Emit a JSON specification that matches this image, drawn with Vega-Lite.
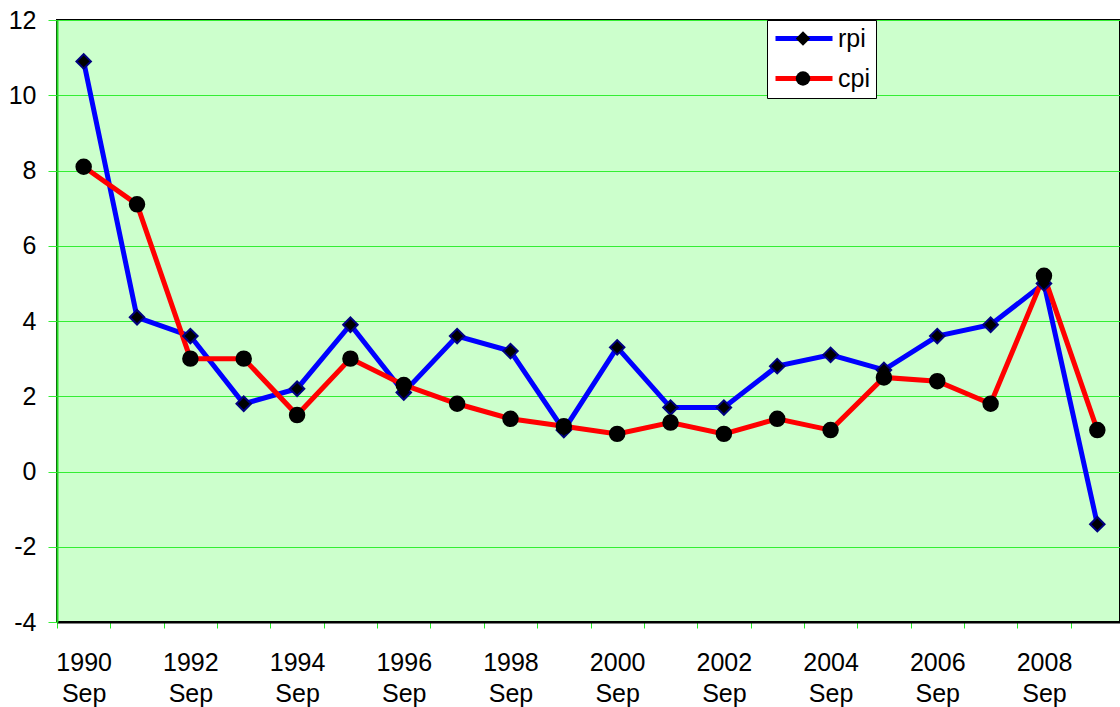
{
  "$schema": "https://vega.github.io/schema/vega-lite/v6.json",
  "width": 1063,
  "height": 602,
  "autosize": {"type": "none"},
  "padding": {"left": 57, "top": 20, "right": 0, "bottom": 85},
  "background": "white",
  "config": {
    "font": "Liberation Sans",
    "view": {"fill": "#ccffcc", "stroke": "black", "strokeWidth": 2},
    "axis": {"labelFont": "Liberation Sans", "labelFontSize": 25, "labelColor": "black"},
    "legend": {"labelFont": "Liberation Sans"}
  },
  "data": {
    "values": [
      {"year": 1990, "period": "1990 Sep", "series": "rpi", "name": "rpi", "value": 10.9},
      {"year": 1991, "period": "1991 Sep", "series": "rpi", "name": "rpi", "value": 4.1},
      {"year": 1992, "period": "1992 Sep", "series": "rpi", "name": "rpi", "value": 3.6},
      {"year": 1993, "period": "1993 Sep", "series": "rpi", "name": "rpi", "value": 1.8},
      {"year": 1994, "period": "1994 Sep", "series": "rpi", "name": "rpi", "value": 2.2},
      {"year": 1995, "period": "1995 Sep", "series": "rpi", "name": "rpi", "value": 3.9},
      {"year": 1996, "period": "1996 Sep", "series": "rpi", "name": "rpi", "value": 2.1},
      {"year": 1997, "period": "1997 Sep", "series": "rpi", "name": "rpi", "value": 3.6},
      {"year": 1998, "period": "1998 Sep", "series": "rpi", "name": "rpi", "value": 3.2},
      {"year": 1999, "period": "1999 Sep", "series": "rpi", "name": "rpi", "value": 1.1},
      {"year": 2000, "period": "2000 Sep", "series": "rpi", "name": "rpi", "value": 3.3},
      {"year": 2001, "period": "2001 Sep", "series": "rpi", "name": "rpi", "value": 1.7},
      {"year": 2002, "period": "2002 Sep", "series": "rpi", "name": "rpi", "value": 1.7},
      {"year": 2003, "period": "2003 Sep", "series": "rpi", "name": "rpi", "value": 2.8},
      {"year": 2004, "period": "2004 Sep", "series": "rpi", "name": "rpi", "value": 3.1},
      {"year": 2005, "period": "2005 Sep", "series": "rpi", "name": "rpi", "value": 2.7},
      {"year": 2006, "period": "2006 Sep", "series": "rpi", "name": "rpi", "value": 3.6},
      {"year": 2007, "period": "2007 Sep", "series": "rpi", "name": "rpi", "value": 3.9},
      {"year": 2008, "period": "2008 Sep", "series": "rpi", "name": "rpi", "value": 5.0},
      {"year": 2009, "period": "2009 Sep", "series": "rpi", "name": "rpi", "value": -1.4},
      {"year": 1990, "period": "1990 Sep", "series": "cpi", "name": "cpi", "value": 8.1},
      {"year": 1991, "period": "1991 Sep", "series": "cpi", "name": "cpi", "value": 7.1},
      {"year": 1992, "period": "1992 Sep", "series": "cpi", "name": "cpi", "value": 3.0},
      {"year": 1993, "period": "1993 Sep", "series": "cpi", "name": "cpi", "value": 3.0},
      {"year": 1994, "period": "1994 Sep", "series": "cpi", "name": "cpi", "value": 1.5},
      {"year": 1995, "period": "1995 Sep", "series": "cpi", "name": "cpi", "value": 3.0},
      {"year": 1996, "period": "1996 Sep", "series": "cpi", "name": "cpi", "value": 2.3},
      {"year": 1997, "period": "1997 Sep", "series": "cpi", "name": "cpi", "value": 1.8},
      {"year": 1998, "period": "1998 Sep", "series": "cpi", "name": "cpi", "value": 1.4},
      {"year": 1999, "period": "1999 Sep", "series": "cpi", "name": "cpi", "value": 1.2},
      {"year": 2000, "period": "2000 Sep", "series": "cpi", "name": "cpi", "value": 1.0},
      {"year": 2001, "period": "2001 Sep", "series": "cpi", "name": "cpi", "value": 1.3},
      {"year": 2002, "period": "2002 Sep", "series": "cpi", "name": "cpi", "value": 1.0},
      {"year": 2003, "period": "2003 Sep", "series": "cpi", "name": "cpi", "value": 1.4},
      {"year": 2004, "period": "2004 Sep", "series": "cpi", "name": "cpi", "value": 1.1},
      {"year": 2005, "period": "2005 Sep", "series": "cpi", "name": "cpi", "value": 2.5},
      {"year": 2006, "period": "2006 Sep", "series": "cpi", "name": "cpi", "value": 2.4},
      {"year": 2007, "period": "2007 Sep", "series": "cpi", "name": "cpi", "value": 1.8},
      {"year": 2008, "period": "2008 Sep", "series": "cpi", "name": "cpi", "value": 5.2},
      {"year": 2009, "period": "2009 Sep", "series": "cpi", "name": "cpi", "value": 1.1}
    ]
  },
  "encoding": {
    "y": {
      "field": "value",
      "type": "quantitative",
      "scale": {"domain": [-4, 12], "nice": false, "zero": false},
      "axis": {
        "title": null,
        "values": [-4, -2, 0, 2, 4, 6, 8, 10, 12],
        "labelExpr": "toString(datum.value)",
        "grid": true,
        "gridColor": "#33ee33",
        "gridWidth": 1,
        "gridOpacity": 1,
        "tickColor": "#33ee33",
        "tickSize": 9,
        "labelPadding": 12,
        "domainColor": "#22dd22",
        "domainWidth": 2
      }
    }
  },
  "resolve": {"axis": {"x": "independent"}},
  "layer": [
    {
      "mark": {"type": "line", "strokeWidth": 5},
      "encoding": {
        "x": {
          "field": "year",
          "type": "quantitative",
          "scale": {"domain": [1989.5, 2009.425], "nice": false, "zero": false},
          "axis": {
            "orient": "bottom",
            "title": null,
            "values": [1990, 1992, 1994, 1996, 1998, 2000, 2002, 2004, 2006, 2008],
            "labelExpr": "[format(datum.value, 'd'), 'Sep']",
            "ticks": false,
            "domain": false,
            "grid": false,
            "labelPadding": 28,
            "labelLineHeight": 31,
            "labelBaseline": "top",
            "labelFlush": false,
            "labelOverlap": false
          }
        },
        "color": {
          "field": "series",
          "type": "nominal",
          "sort": ["rpi", "cpi"],
          "scale": {"domain": ["rpi", "cpi"], "range": ["#0000ff", "#ff0000"]},
          "legend": {
            "orient": "none",
            "legendX": 710,
            "legendY": 0,
            "title": null,
            "fillColor": "white",
            "strokeColor": "black",
            "padding": 6,
            "symbolType": "M-1,0H4.7",
            "symbolSize": 400,
            "symbolStrokeWidth": 5,
            "labelFontSize": 25,
            "labelOffset": 40,
            "rowPadding": 14
          }
        },
        "order": {"field": "year"}
      }
    },
    {
      "mark": {"type": "point", "filled": true, "size": 210, "opacity": 1, "fill": "black", "strokeWidth": 2},
      "encoding": {
        "x": {
          "field": "year",
          "type": "quantitative",
          "axis": {
            "orient": "bottom",
            "title": null,
            "values": [1989.5, 1990.5, 1991.5, 1992.5, 1993.5, 1994.5, 1995.5, 1996.5, 1997.5, 1998.5, 1999.5, 2000.5, 2001.5, 2002.5, 2003.5, 2004.5, 2005.5, 2006.5, 2007.5, 2008.5],
            "labels": false,
            "grid": false,
            "ticks": true,
            "tickColor": "#22ee22",
            "tickSize": 6,
            "tickWidth": 1,
            "domainColor": "black",
            "domainWidth": 2
          }
        },
        "shape": {
          "field": "name",
          "type": "nominal",
          "sort": ["rpi", "cpi"],
          "scale": {"range": ["diamond", "circle"]},
          "legend": {
            "orient": "none",
            "legendX": 727.5,
            "legendY": 0,
            "title": null,
            "padding": 6,
            "symbolSize": 210,
            "symbolFillColor": "black",
            "symbolStrokeColor": "#000080",
            "symbolStrokeWidth": 2,
            "labelFontSize": 25,
            "labelOffset": 3,
            "labelExpr": "' '",
            "labelColor": "transparent",
            "rowPadding": 14
          }
        },
        "stroke": {
          "condition": {"test": "datum.series === 'rpi'", "value": "#000080"},
          "value": "black"
        }
      }
    }
  ]
}
